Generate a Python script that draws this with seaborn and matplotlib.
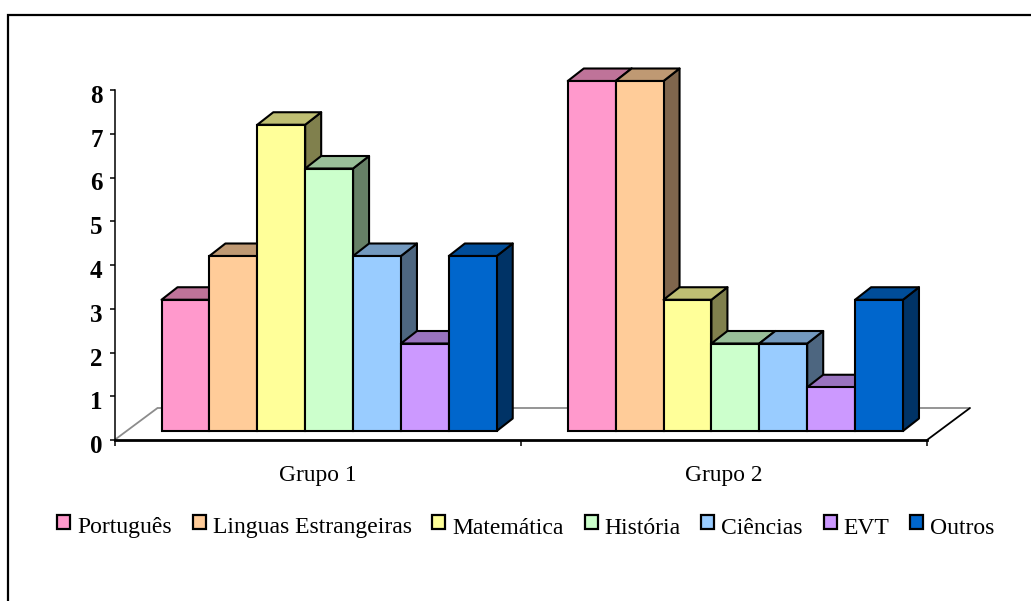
import matplotlib
matplotlib.use("Agg")
import matplotlib.pyplot as plt
import seaborn as sns
import pandas as pd
from matplotlib.patches import Patch, Polygon, Rectangle
from matplotlib.transforms import Affine2D, IdentityTransform
from matplotlib.colors import to_rgb

groups = ["Grupo 1", "Grupo 2"]
subjects = ["Português", "Linguas Estrangeiras", "Matemática", "História", "Ciências", "EVT", "Outros"]
grupo1 = [3, 4, 7, 6, 4, 2, 4]
grupo2 = [8, 8, 3, 2, 2, 1, 3]
colors = ["#FF99CC", "#FFCC99", "#FFFF99", "#CCFFCC", "#99CCFF", "#CC99FF", "#0066CC"]
yticks = [0, 1, 2, 3, 4, 5, 6, 7, 8]

W, H = 1031, 601
sns.set_theme(style="white")
plt.rcParams["font.family"] = ["Liberation Serif", "DejaVu Serif"]

df = pd.DataFrame({
    "grupo": [g for g in groups for _ in subjects],
    "disciplina": subjects * 2,
    "valor": grupo1 + grupo2,
})

fig = plt.figure(figsize=(W / 100, H / 100), dpi=100, facecolor="white")
ax = fig.add_axes([114.5 / W, 1 - 440 / H, (927 - 114.5) / W, 350 / H])

sns.barplot(data=df, x="grupo", y="valor", hue="disciplina", hue_order=subjects,
            order=groups, palette=colors, width=335 / 406, gap=0, dodge=True,
            edgecolor="black", linewidth=1.5, saturation=1, legend=False, ax=ax)
ax.set_xlim(-0.5, 1.5)
ax.set_ylim(0, 8)

# pseudo-3D: front faces sit forward of the back wall, depth goes up and right
dx0, dy0 = 11.5, 9.0
depth_x, depth_y = 16.0, 12.5
fig.canvas.draw()

# floor
floor_dx, floor_dy = 43, 32
x0, y0 = ax.transData.transform((-0.5, 0))
x1, _ = ax.transData.transform((1.5, 0))
ident = IdentityTransform()
ax.add_patch(Polygon([(x0, y0), (x0 + floor_dx, y0 + floor_dy), (x1 + floor_dx, y0 + floor_dy)],
                     closed=False, fill=False, ec="#8c8c8c", lw=1.3, transform=ident, clip_on=False, zorder=1))
ax.plot([x1, x1 + floor_dx], [y0, y0 + floor_dy], color="black", lw=1.3, transform=ident, clip_on=False, zorder=1)

bars = [p for p in ax.patches if isinstance(p, Rectangle)]
bars = sorted(bars, key=lambda b: b.get_x())
z = 3
for bar in bars:
    bx, bw, bh = bar.get_x(), bar.get_width(), bar.get_height()
    (l, b), (r, t) = ax.transData.transform([(bx, 0), (bx + bw, bh)])
    l, r = l + dx0, r + dx0
    b, t = b + dy0, t + dy0
    face = to_rgb(bar.get_facecolor()[:3])
    top_c = tuple(c * 0.75 for c in face)
    side_c = tuple(c * 0.5 for c in face)
    ax.add_patch(Polygon([(r, b), (r + depth_x, b + depth_y), (r + depth_x, t + depth_y), (r, t)],
                         closed=True, fc=side_c, ec="black", lw=1.5, transform=ident, clip_on=False,
                         joinstyle="round", zorder=z))
    ax.add_patch(Polygon([(l, t), (l + depth_x, t + depth_y), (r + depth_x, t + depth_y), (r, t)],
                         closed=True, fc=top_c, ec="black", lw=1.5, transform=ident, clip_on=False,
                         joinstyle="round", zorder=z))
    bar.set_transform(ax.transData + Affine2D().translate(dx0, dy0))
    bar.set_clip_on(False)
    bar.set_zorder(z + 0.5)
    z += 1

for s in ["top", "right"]:
    ax.spines[s].set_visible(False)
ax.spines["left"].set_linewidth(1.1)
ax.spines["bottom"].set_linewidth(2.0)
for s in ["left", "bottom"]:
    ax.spines[s].set_color("black")

ax.set_xlabel("")
ax.set_ylabel("")
ax.set_yticks(yticks)
ax.set_yticklabels([str(v) for v in yticks], fontsize=18, fontweight="bold", color="black")
ax.tick_params(axis="y", left=True, length=3.5, width=1.1, color="black", pad=5)
for lab in ax.get_yticklabels():
    lab.set_transform(lab.get_transform() + Affine2D().translate(0, -4))
# category boundaries as ticks, group names centred between them
ax.set_xticks([-0.5, 0.5, 1.5])
ax.set_xticklabels(["", "", ""])
ax.set_xticks([0, 1], labels=groups, minor=True)
ax.tick_params(axis="x", which="major", bottom=True, length=4, width=1.1, color="black")
ax.tick_params(axis="x", which="minor", bottom=False, length=0, pad=18, labelsize=16.8, labelcolor="black")

handles = [Patch(facecolor=c, edgecolor="black", linewidth=1.6, label=s) for c, s in zip(colors, subjects)]
leg = fig.legend(handles=handles, loc="center", bbox_to_anchor=(526 / W, 1 - 528 / H), ncol=7, frameon=False,
                 fontsize=17, handlelength=0.55, handleheight=0.55, handletextpad=0.3, columnspacing=0.875,
                 labelcolor="black", borderpad=0, borderaxespad=0)
for h in leg.legend_handles:
    h.set_y(h.get_y() + 2)

fig.add_artist(Rectangle((8 / W, -0.1), 1.2, 1.1 - 15 / H, transform=fig.transFigure, fill=False,
                         ec="black", lw=1.6))
fig.savefig("out.png", dpi=100, facecolor="white")
